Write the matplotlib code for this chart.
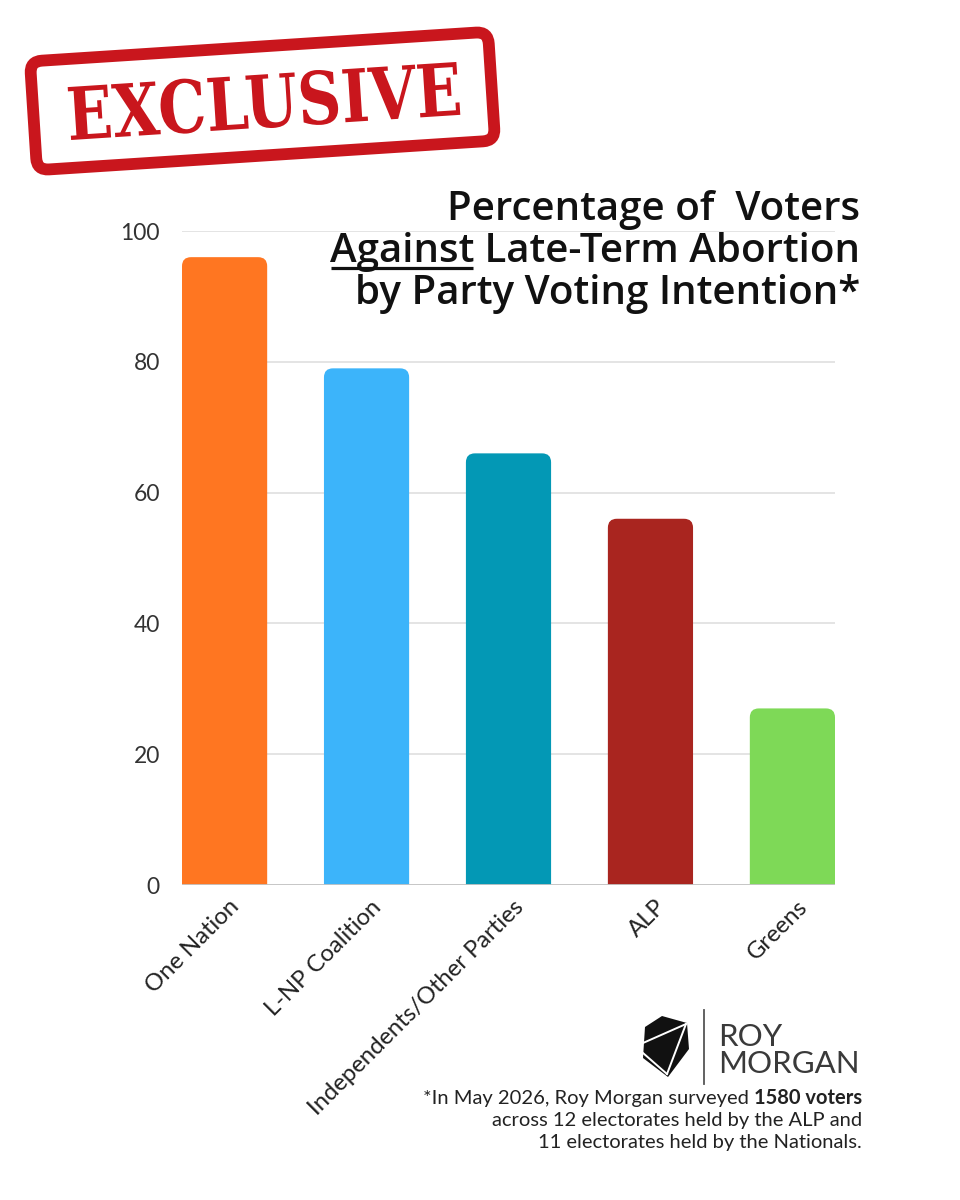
import matplotlib
matplotlib.use("Agg")
import matplotlib.pyplot as plt
from matplotlib.patches import FancyBboxPatch, PathPatch, Polygon
from matplotlib.textpath import TextPath
from matplotlib.font_manager import FontProperties
from matplotlib.transforms import Affine2D, ScaledTranslation

# ---------------- data ----------------
parties = ["One Nation", "L-NP Coalition", "Independents/Other Parties", "ALP", "Greens"]
against_pct = [96, 79, 66, 56, 27]
bar_colors = ["#FF7621", "#3CB4FA", "#0398B5", "#A9251F", "#7ED957"]
y_ticks = [0, 20, 40, 60, 80, 100]
title_line1 = "Percentage of  Voters"
title_line2_a = "Against"
title_line2_b = " Late-Term Abortion"
title_line3 = "by Party Voting Intention*"
stamp_text = "EXCLUSIVE"
logo_lines = ["ROY", "MORGAN"]
foot_1_normal = "*In May 2026, Roy Morgan surveyed"
foot_1_bold = "1580 voters"
foot_2 = "across 12 electorates held by the ALP and"
foot_3 = "11 electorates held by the Nationals."

plt.rcParams["font.family"] = ["Lato", "DejaVu Sans"]

W, H = 960, 1200
fig = plt.figure(figsize=(9.6, 12), dpi=100)
fig.patch.set_facecolor("white")

# ---------------- chart axes ----------------
ax = fig.add_axes([182 / W, 1 - 885 / H, (835 - 182) / W, (885 - 231) / H])
xlim = (-0.3, len(parties) - 1 + 0.3)
ax.set_xlim(*xlim)
ax.set_ylim(0, 100)
for s in ax.spines.values():
    s.set_visible(False)
ax.set_yticks(y_ticks)
ax.yaxis.grid(True, color="#DCDCDC", lw=1.1)
ax.set_axisbelow(True)
ax.tick_params(axis="y", length=0, pad=16, labelsize=16.5, labelcolor="#333333")
ax.axhline(0, color="#C4C4C4", lw=1.3, zorder=3)

bars = ax.bar(range(len(parties)), against_pct, width=0.6, color=bar_colors, zorder=2)
px_per_x = ax.bbox.width / (xlim[1] - xlim[0])
px_per_y = ax.bbox.height / 100.0
r_px = 9
aspect = px_per_x / px_per_y
for b in bars:
    x0, w, h = b.get_x(), b.get_width(), b.get_height()
    b.set_visible(False)
    ext = 2 * r_px / px_per_y
    p = FancyBboxPatch((x0, -ext), w, h + ext,
                       boxstyle=f"round,pad=0,rounding_size={r_px / px_per_x}",
                       mutation_aspect=aspect, facecolor=b.get_facecolor(),
                       edgecolor="none", zorder=2)
    ax.add_patch(p)

ax.set_xticks(range(len(parties)))
ax.set_xticklabels(parties, rotation=45, ha="right", va="top",
                   rotation_mode="anchor", fontsize=17.2, color="#222222")
ax.tick_params(axis="x", length=0, pad=8)
for lab in ax.get_xticklabels():
    lab.set_transform(lab.get_transform() + ScaledTranslation(4 / 100, 0, fig.dpi_scale_trans))

# ---------------- overlay (pixel coordinates, y up) ----------------
ov = fig.add_axes([0, 0, 1, 1], zorder=5)
ov.set_xlim(0, W)
ov.set_ylim(0, H)
ov.axis("off")
ov.patch.set_alpha(0)


def Y(y):
    return H - y


renderer = fig.canvas.get_renderer()

# title
tkw = dict(fontsize=29, fontweight="semibold", color="#111111", ha="right", va="baseline",
           family=["Open Sans", "DejaVu Sans"])
ov.text(860, Y(220), title_line1, **tkw)
t2b = ov.text(860, Y(262), title_line2_b, **tkw)
bb = t2b.get_window_extent(renderer)
t2a = ov.text(bb.x0, Y(262), title_line2_a, **tkw)
bba = t2a.get_window_extent(renderer)
ov.plot([bba.x0 + 1, bba.x1 - 1], [Y(268), Y(268)], color="#111111", lw=2.3, solid_capstyle="butt")
ov.text(860, Y(304), title_line3, **tkw)

# stamp
red = "#C9161D"
cx, cy = 262.5, Y(101)
ang = 3.7
rot = Affine2D().rotate_deg_around(cx, cy, ang) + ov.transData
bw, bh = 459, 109
box = FancyBboxPatch((cx - bw / 2, cy - bh / 2), bw, bh,
                     boxstyle="round,pad=0,rounding_size=12",
                     facecolor="none", edgecolor=red, lw=8.5, transform=rot)
ov.add_patch(box)
fp = FontProperties(family=["DejaVu Serif"], weight="bold")
tp = TextPath((0, 0), stamp_text, size=100, prop=fp)
ex = tp.get_extents()
tw, th = 390, 55
tr = (Affine2D().translate(-(ex.x0 + ex.x1) / 2, -(ex.y0 + ex.y1) / 2)
      .scale(tw / ex.width, th / ex.height)
      .translate(264, Y(101))
      .rotate_deg_around(264, Y(101), ang))
ov.add_patch(PathPatch(tr.transform_path(tp), facecolor=red, edgecolor="none",
                       transform=ov.transData))

# logo
outer = [(645, 1027), (662, 1016), (687, 1023), (689, 1049), (668, 1077), (643, 1058)]
ov.add_patch(Polygon([(x, Y(y)) for x, y in outer], closed=True, facecolor="#111111",
                     edgecolor="none"))
for (x1, y1), (x2, y2) in [((643, 1043), (686, 1024)), ((686, 1024), (667, 1074)),
                           ((643, 1053), (667, 1074))]:
    ov.plot([x1, x2], [Y(y1), Y(y2)], color="white", lw=1.4)
ov.plot([704, 704], [Y(1010), Y(1084)], color="#555555", lw=1.3)
lkw = dict(fontsize=22.5, fontweight="normal", color="#3A3A3A", ha="left", va="baseline")
ov.text(718, Y(1046), logo_lines[0], **lkw)
ov.text(718, Y(1073), logo_lines[1], **lkw)

# footnote
fkw = dict(fontsize=14.5, color="#222222", ha="right", va="baseline")
fb = ov.text(862, Y(1104), foot_1_bold, fontweight="bold", **fkw)
bbf = fb.get_window_extent(renderer)
ov.text(bbf.x0 - 5, Y(1104), foot_1_normal, **fkw)
ov.text(862, Y(1126), foot_2, **fkw)
ov.text(862, Y(1148), foot_3, **fkw)

fig.savefig("out.png", dpi=100, facecolor="white")
